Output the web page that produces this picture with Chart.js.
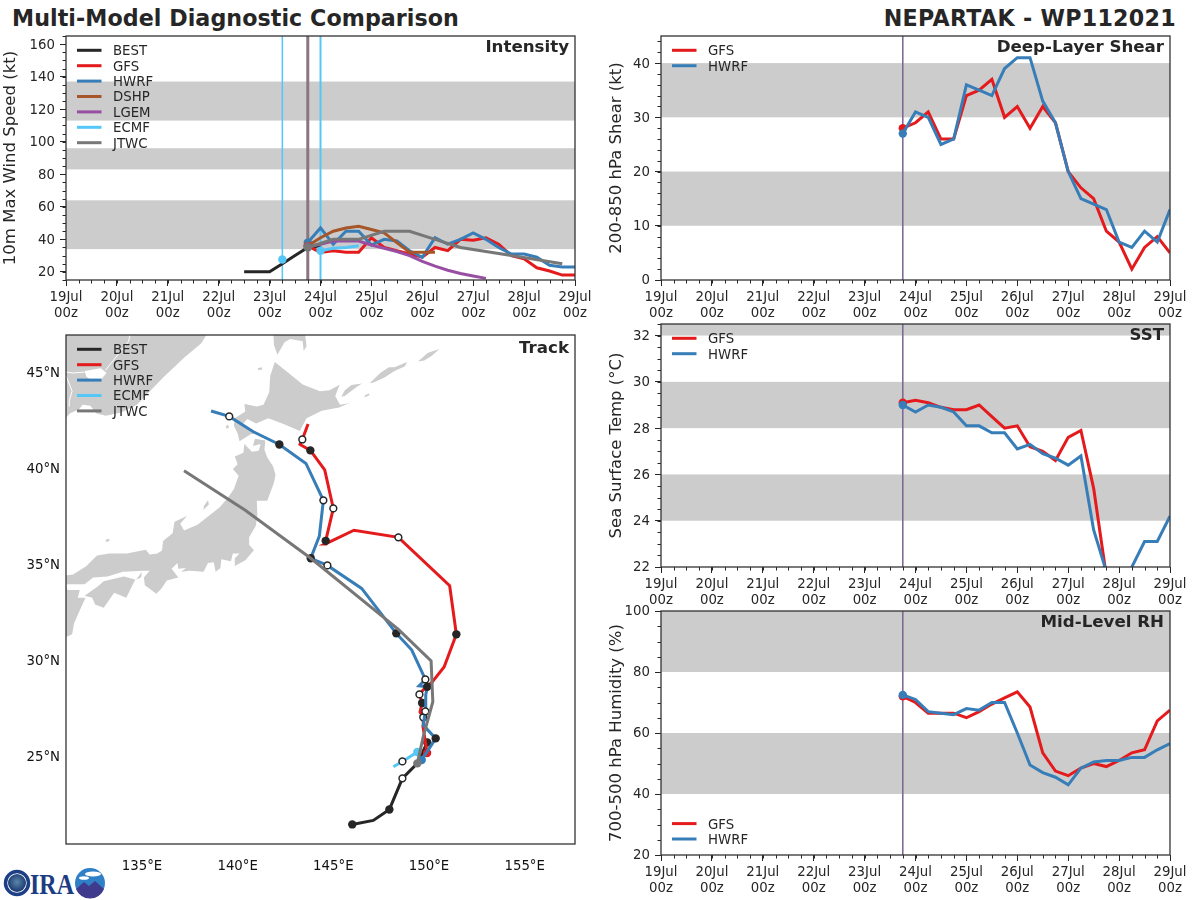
<!DOCTYPE html>
<html><head><meta charset="utf-8">
<style>
html,body{margin:0;padding:0;background:#fff;width:1200px;height:900px;overflow:hidden;font-family:"DejaVu Sans",sans-serif;color:#262626}
canvas{position:absolute;display:block}
.head{position:absolute;top:4px;font-weight:bold;font-size:22.2px;line-height:28px;white-space:nowrap}
svg{position:absolute}
</style>
<script src="https://cdn.jsdelivr.net/npm/chart.js@4/dist/chart.umd.min.js"></script>
</head><body>
<div class="head" style="left:12px;letter-spacing:.06px">Multi-Model Diagnostic Comparison</div>
<div class="head" style="right:24px;letter-spacing:.28px">NEPARTAK - WP112021</div>
<svg style="left:0;top:862px" width="110" height="38" viewBox="0 0 110 38">
  <defs><radialGradient id="e" cx="50%" cy="45%" r="60%"><stop offset="0" stop-color="#5b86a8"/><stop offset="1" stop-color="#12306b"/></radialGradient></defs>
  <circle cx="17" cy="21" r="11.5" fill="none" stroke="#1d3f86" stroke-width="3.5"/>
  <circle cx="17" cy="21" r="9" fill="url(#e)"/>
  <text x="30" y="32" font-family="Liberation Serif" font-weight="bold" font-size="30" fill="#1c3c83" textLength="44" lengthAdjust="spacingAndGlyphs">IRA</text>
  <circle cx="90" cy="21" r="15" fill="#2f80c6"/>
  <ellipse cx="93" cy="12" rx="8" ry="2.4" fill="#fff"/><ellipse cx="84" cy="16" rx="5" ry="1.8" fill="#fff"/>
  <path d="M76 27 L84 20 L89 24 L95 19 L104 27 A15 15 0 0 1 76 27Z" fill="#3f3a8c"/>
</svg>
<canvas id="intensity"></canvas>
<canvas id="shear"></canvas>
<canvas id="track"></canvas>
<canvas id="sst"></canvas>
<canvas id="rh"></canvas>
<script>
// ---------- tick labels ----------
const dayHours = [0,24,48,72,96,120,144,168,192,216,240];
const dayLabels = ['19Jul','20Jul','21Jul','22Jul','23Jul','24Jul','25Jul','26Jul','27Jul','28Jul','29Jul'];
const hourLabel = '00z';
const intensityTicks = [20,40,60,80,100,120,140,160];
const shearTicks = [0,10,20,30,40];
const sstTicks = [22,24,26,28,30,32];
const rhTicks = [20,40,60,80,100];
const lonTicks = [135,140,145,150,155];
const latTicks = [25,30,35,40,45];

// ---------- time axes of series (hours after 19Jul 00z) ----------
const forecastHours = [114,120,126,132,138,144,150,156,162,168,174,180,186,192,198,204,210,216,222,228,234,240];
const bestHours = [84,90,96,102,108,114,120];
const dshpHours = [114,120,126,132,138,144,150,156,162,168,174];
const lgemHours = [114,120,126,132,138,144,150,156,162,168,174,180,186,192,198];
const ecmfHours = [120,126,132,138];
const jtwcHours = [114,126,138,150,162,174,186,210,234];
const ecmfEarlyHours = [102];
const ecmfInitEarly = [102];
const ecmfInitLate = [120];
const analysisHours = [114];

// ---------- intensity (kt) ----------
const bestWind = [20,20,20,25,30,35,36];
const gfsWind = [36,32,33,32,32,41,35,33,31,29,35,33,40,39.5,41,37,30,28,22.5,20.5,18,18];
const hwrfWind = [38,47,37,45,45,36.5,40,39,33,29,41,37,40,44,40,35,31,31,29,24,23,23];
const dshpWind = [36,41,45,47,48,46,44,38,32,32,32];
const lgemWind = [35.5,37,39,39,39,36.5,34.5,32.5,30,26.5,23.5,21,19,17.5,16];
const ecmfWind = [33,34.5,35,36];
const ecmfEarlyWind = [27.6];
const jtwcWind = [35,40,40,45,45,40,35,30,25];
const intensityBands = [[34,64],[83,96],[113,137]];

// ---------- shear (kt) ----------
const gfsShear = [28,29,31,26,26,34,35,37,30,32,28,32,29,20,17,15,9,7,2,6,8,5];
const hwrfShear = [27,31,30,25,26,36,35,34,39,41,41,33,29,20,15,14,13,7,6,9,7,13];
const shearBands = [[10,20],[30,40]];

// ---------- SST (deg C) ----------
const gfsSst = [29.1,29.2,29.1,28.9,28.8,28.8,29.0,28.5,28.0,28.1,27.2,27.0,26.6,27.6,27.9,25.4,21.6,20,20,20,20,20];
const hwrfSst = [29.0,28.7,29.0,28.9,28.7,28.1,28.1,27.8,27.8,27.1,27.3,26.9,26.7,26.4,26.8,23.6,21.8,20,22,23.1,23.1,24.2];
const sstBands = [[24,26],[28,30],[32,33]];

// ---------- mid-level RH (%) ----------
const gfsRh = [72,70,66.5,66.5,66.5,65,67,69.5,71.5,73.5,68.5,53.5,47.5,46,48.5,50,49,51,53.5,54.5,64,67.5];
const hwrfRh = [72.5,71,67,66.5,66,68,67.5,70,70,60,49.5,47,45.5,43,48.5,50.5,51,51,52,52,54.5,56.5];
const rhBands = [[40,60],[80,100]];

// ---------- tracks ----------
const bestLon = [145.99,147.09,147.93,148.61,149.39,149.91];
const bestLat = [21.44,21.65,22.22,23.84,24.62,25.71];
const bestFilled = [0,2,5];
const bestOpen = [3];
const gfsLon = [149.43,149.90,149.69,149.70,149.53,149.64,149.50,149.69,150.16,150.79,151.43,151.08,148.40,146.08,144.57,144.60,145.00,144.55,143.80,143.26,143.38,143.68];
const gfsLat = [24.69,25.16,26.51,27.02,27.29,27.76,28.21,28.44,28.85,29.64,31.34,33.87,36.39,36.76,36.04,36.21,37.90,39.90,40.92,41.23,41.49,42.29];
const gfsFilled = [5,10,15,18];
const gfsOpen = [3,6,12,16,20];
const hwrfLon = [149.62,150.35,149.70,149.81,149.83,149.91,149.48,149.81,149.10,148.29,146.48,144.69,143.82,144.27,144.48,143.57,142.18,140.82,139.56,138.61];
const hwrfLat = [24.79,25.92,26.61,27.33,28.18,28.61,28.66,28.99,30.52,31.39,33.73,34.93,35.30,36.46,38.32,40.24,41.23,41.89,42.69,42.97];
const hwrfFilled = [1,5,9,12,16];
const hwrfOpen = [3,7,11,14,18];
const ecmfLon = [149.39,148.61,148.14];
const ecmfLat = [25.21,24.72,24.44];
const ecmfOpen = [1];
const jtwcLon = [149.39,149.70,150.20,150.11,148.40,143.82,140.38,137.20];
const jtwcLat = [24.62,26.01,27.83,29.96,31.60,35.30,37.81,39.86];

// ---------- land outlines as [lon,lat] ----------
const mainland = [[130.5,47.5],[138.7,47.5],[138.35,46.9],[138.1,46.5],[137.2,45.75],[136.15,44.75],[135.26,43.85],[134.74,43.3],[133.9,42.9],[133.1,42.72],[132.6,42.85],[132.3,43.25],[131.9,43.3],[131.7,43.05],[131.25,42.85],[131.03,42.62],[130.5,42.5]];
const lakeKhanka = [[132.0,45.05],[132.85,45.2],[133.15,44.95],[132.85,44.6],[132.4,44.55],[132.1,44.75]];
const borderA = [[134.45,47.2],[134.3,46.6],[133.9,46.1],[133.5,45.6],[133.1,45.1]];
const borderB = [[132.0,45.0],[131.4,44.95],[131.0,45.0]];
const borderC = [[131.2,43.2],[131.2,43.5],[131.35,44.0],[131.0,44.9]];
const sakhalin = [[141.85,47.2],[141.9,46.4],[142.08,45.9],[142.45,46.55],[142.75,46.72],[143.4,46.6],[143.45,46.1],[143.6,46.35],[143.5,47.2]];
const hokkaido = [[141.94,45.52],[142.6,45.0],[143.4,44.35],[144.3,44.0],[144.8,44.05],[145.33,44.34],[145.1,43.75],[145.35,43.3],[145.82,43.38],[145.3,43.15],[144.4,42.98],[143.6,42.6],[143.25,41.93],[142.4,42.3],[141.6,42.6],[140.97,42.32],[140.5,42.55],[140.28,42.3],[140.7,41.95],[141.18,41.8],[140.7,41.77],[140.1,41.4],[140.0,41.8],[139.8,42.2],[139.85,42.6],[140.4,42.95],[140.35,43.33],[141.0,43.2],[141.35,43.3],[141.65,43.95],[141.7,44.8]];
const rishiri = [[141.1,45.1],[141.3,45.15],[141.25,45.25],[141.05,45.2]];
const okushiri = [[139.4,42.05],[139.55,42.1],[139.5,42.25],[139.4,42.2]];
const kunashiri = [[145.42,43.72],[145.6,44.05],[145.95,44.32],[146.5,44.4],[146.25,44.25],[145.85,43.95],[145.6,43.75]];
const iturup = [[146.9,44.42],[147.45,44.95],[147.9,45.25],[148.2,45.25],[148.85,45.52],[148.75,45.3],[148.2,45.05],[147.65,44.7],[147.1,44.45]];
const urup = [[149.42,45.55],[149.95,46.0],[150.55,46.2],[150.15,45.85],[149.75,45.6]];
const shikotan = [[146.6,43.75],[146.85,43.88],[146.9,43.8],[146.7,43.7]];
const honshu = [[140.9,41.53],[141.45,41.43],[141.4,40.95],[141.55,40.55],[141.85,40.1],[141.98,39.65],[141.9,39.25],[141.55,38.3],[141.0,38.3],[141.03,37.6],[140.95,37.0],[140.6,36.4],[140.6,36.0],[140.85,35.72],[140.4,35.2],[139.85,34.9],[139.85,35.3],[140.1,35.55],[139.75,35.55],[139.65,35.15],[139.15,35.25],[139.1,34.8],[138.85,34.6],[138.75,35.1],[138.45,35.05],[138.22,34.6],[137.5,34.65],[137.05,34.6],[137.3,34.8],[136.9,34.75],[136.85,35.05],[136.55,34.75],[136.9,34.3],[136.3,34.15],[136.0,33.7],[135.75,33.45],[135.15,33.9],[135.1,34.3],[135.4,34.65],[135.1,34.65],[134.0,34.6],[133.2,34.35],[132.45,34.3],[132.0,33.95],[131.2,33.95],[130.5,33.9],[130.5,34.45],[131.1,34.42],[131.4,34.45],[132.1,34.9],[132.65,35.45],[133.3,35.55],[134.2,35.55],[135.2,35.75],[135.4,35.5],[135.8,35.55],[136.05,35.7],[136.1,36.2],[136.6,36.6],[136.7,37.2],[137.35,37.5],[137.0,37.1],[137.2,36.75],[137.9,37.05],[139.05,37.95],[139.45,38.4],[139.8,38.9],[140.05,39.6],[139.75,39.95],[140.0,40.2],[139.85,40.6],[140.3,40.8],[140.35,41.25],[140.75,40.85],[141.1,40.9],[141.2,41.25],[140.8,41.15],[140.9,41.53]];
const shikoku = [[134.65,34.2],[134.18,33.25],[133.55,33.5],[133.0,32.72],[132.55,32.9],[132.4,33.25],[132.0,33.35],[132.7,33.85],[133.0,34.1],[134.05,34.35]];
const kyushu = [[130.5,33.9],[131.03,33.92],[131.1,33.65],[131.75,33.65],[131.65,33.25],[132.05,33.25],[131.85,32.8],[131.75,32.6],[131.45,31.9],[131.35,31.35],[130.8,31.1],[130.5,31.1]];
const awaji = [[134.7,34.2],[135.0,34.6],[134.95,34.3]];
const sado = [[138.2,37.82],[138.5,38.1],[138.45,38.32],[138.25,38.05]];
const oki = [[133.1,36.15],[133.3,36.2],[133.3,36.3],[133.12,36.28]];
const landShapes = [mainland,sakhalin,hokkaido,rishiri,okushiri,kunashiri,iturup,urup,shikotan,honshu,shikoku,kyushu,awaji,sado,oki];
const lakes = [lakeKhanka];
const borders = [borderA,borderB,borderC];

// ---------- styles ----------
const INK = '#262626', BAND = '#cccccc';
const C = {best:'#262626',gfs:'#e41a1c',hwrf:'#377eb8',dshp:'#a65628',lgem:'#984ea3',ecmf:'#55c7f7',jtwc:'#777777'};
const FONT = '"DejaVu Sans"';
const TICK_SIZE = 13.3, LEGEND_SIZE = 13.3, AXIS_TITLE_SIZE = 16.5, PANEL_TITLE_SIZE = 16.67;

const zip = (xs, ys) => xs.map((x, i) => ({x, y: ys[i]}));
const zipPairs = a => a.map(p => ({x: p[0], y: p[1]}));

function series(label, color, hours, values, opts = {}) {
  return Object.assign({
    label, showInLegend: true, data: zip(hours, values),
    borderColor: color, backgroundColor: color, borderWidth: 3,
    pointRadius: c => c.dataIndex === 0 ? 4.2 : 0, pointBorderWidth: 0, pointHoverRadius: 0,
    pointBackgroundColor: color, showLine: true, tension: 0, clip: 0,
    borderJoinStyle: 'miter', borderCapStyle: 'butt', fill: false
  }, opts);
}
function vline(hours, color, width, yMin, yMax) {
  return hours.map(h => ({
    label: 'marker', showInLegend: false, data: [{x: h, y: yMin}, {x: h, y: yMax}],
    borderColor: color, backgroundColor: color, borderWidth: width, pointRadius: 0,
    showLine: true, tension: 0, clip: 0, fill: false
  }));
}
function dots(label, color, hours, values) {
  return {label, showInLegend: false, data: zip(hours, values), showLine: false,
          pointRadius: 4.2, pointBorderWidth: 0, pointBackgroundColor: color, borderColor: color, backgroundColor: color, clip: 0};
}
function stack(list) { const n = list.length; list.forEach((d, i) => d.order = n - i); return list; }

function decoPlugin(cfg) {
  return {
    id: 'deco',
    beforeDatasetsDraw(chart) {
      const {ctx, chartArea: a, scales: {y}} = chart;
      if (!cfg.bands) return;
      ctx.save();
      ctx.beginPath(); ctx.rect(a.left, a.top, a.width, a.height); ctx.clip();
      ctx.fillStyle = BAND;
      cfg.bands.forEach(b => {
        const t = y.getPixelForValue(b[1]), u = y.getPixelForValue(b[0]);
        ctx.fillRect(a.left, t, a.width, u - t);
      });
      ctx.restore();
    },
    afterDatasetsDraw(chart) {
      const {ctx, chartArea: a, scales: {x, y}} = chart;
      ctx.save();
      ctx.strokeStyle = INK; ctx.lineWidth = 1;
      if (cfg.minorX) for (let v = x.min; v <= x.max + 1e-6; v += cfg.minorX) {
        const p = Math.round(x.getPixelForValue(v)) + .5;
        ctx.beginPath(); ctx.moveTo(p, a.bottom); ctx.lineTo(p, a.bottom + 3.5); ctx.stroke();
      }
      if (cfg.minorY) for (let v = cfg.minorFrom; v <= y.max + 1e-6; v += cfg.minorY) {
        const p = Math.round(y.getPixelForValue(v)) + .5;
        ctx.beginPath(); ctx.moveTo(a.left, p); ctx.lineTo(a.left - 3.5, p); ctx.stroke();
      }
      ctx.strokeStyle = '#333333'; ctx.lineWidth = 1.3;
      ctx.strokeRect(a.left, a.top, a.width, a.height);
      // panel title
      ctx.fillStyle = INK;
      ctx.font = `bold ${PANEL_TITLE_SIZE}px ${FONT}`;
      ctx.textAlign = 'right'; ctx.textBaseline = 'middle';
      ctx.fillText(cfg.title, a.right - 6, a.top + (cfg.titleDrop || 11.5));
      // legend inside the plot
      const rows = chart.data.datasets.filter(d => d.showInLegend);
      const rowH = 15.4;
      const y0 = cfg.legendBottom ? a.bottom - 16 - (rows.length - 1) * rowH : a.top + 14.3;
      ctx.font = `${LEGEND_SIZE}px ${FONT}`;
      ctx.textAlign = 'left';
      rows.forEach((d, i) => {
        const ry = y0 + i * rowH;
        ctx.strokeStyle = d.borderColor; ctx.lineWidth = 3; ctx.lineCap = 'butt';
        ctx.beginPath(); ctx.moveTo(a.left + 11, ry); ctx.lineTo(a.left + 35.5, ry); ctx.stroke();
        ctx.fillStyle = INK;
        ctx.fillText(d.label, a.left + 47, ry + 1.5);
      });
      ctx.restore();
    }
  };
}

function panel(id, rect, cfg) {
  const top = 20, right = 25, axisH = 48;
  const el = document.getElementById(id);
  el.width = rect.w + rect.axisW + right;
  el.height = rect.h + top + axisH;
  el.style.left = (rect.x - rect.axisW) + 'px';
  el.style.top = (rect.y - top) + 'px';
  return new Chart(el, {
    type: 'scatter',
    data: {datasets: stack(cfg.datasets)},
    plugins: [decoPlugin(cfg)],
    options: {
      responsive: false, animation: false, devicePixelRatio: 1,
      layout: {autoPadding: false, padding: {left: 0, top, right, bottom: 0}},
      events: [],
      plugins: {legend: {display: false}, tooltip: {enabled: false}, title: {display: false}},
      scales: {
        x: Object.assign({
          type: 'linear', min: 0, max: 240,
          grid: {drawOnChartArea: false, drawTicks: true, tickLength: 6, tickColor: INK, tickWidth: 1},
          border: {display: false},
          afterBuildTicks: s => { s.ticks = dayHours.map(value => ({value})); },
          afterFit: s => { s.height = axisH; },
          ticks: {autoSkip: false, maxRotation: 0, minRotation: 0, padding: 3, color: INK,
                  font: {family: FONT, size: TICK_SIZE, lineHeight: 1.25},
                  callback: v => [dayLabels[dayHours.indexOf(v)], hourLabel]}
        }, cfg.x || {}),
        y: Object.assign({
          type: 'linear', min: cfg.yMin, max: cfg.yMax,
          grid: {drawOnChartArea: false, drawTicks: true, tickLength: 6, tickColor: INK, tickWidth: 1},
          border: {display: false},
          afterBuildTicks: s => { s.ticks = cfg.yTicks.map(value => ({value})); },
          afterFit: s => { s.width = rect.axisW; },
          title: cfg.yTitle ? {display: true, text: cfg.yTitle, color: INK, padding: {top: 1, bottom: 0},
                  font: {family: FONT, size: AXIS_TITLE_SIZE, lineHeight: 1.2, weight: 'normal'}} : {display: false},
          ticks: {autoSkip: false, padding: 5, labelOffset: 1, color: INK,
                  font: {family: FONT, size: TICK_SIZE}, callback: v => String(v)}
        }, cfg.y || {})
      }
    }
  });
}

// ---------- intensity ----------
panel('intensity', {x: 66, y: 36, w: 509, h: 244, axisW: 66}, {
  title: 'Intensity', yTitle: '10m Max Wind Speed (kt)', yMin: 15, yMax: 165, yTicks: intensityTicks,
  bands: intensityBands, minorX: 6, minorY: 5, minorFrom: 15,
  datasets: [
    ...vline(ecmfInitEarly, C.ecmf, 1.5, 15, 165),
    ...vline(ecmfInitLate, C.ecmf, 2, 15, 165),
    ...vline(analysisHours, '#8a7680', 3, 15, 165),
    series('BEST', C.best, bestHours, bestWind, {pointRadius: 0}),
    series('GFS', C.gfs, forecastHours, gfsWind),
    series('HWRF', C.hwrf, forecastHours, hwrfWind),
    series('DSHP', C.dshp, dshpHours, dshpWind),
    series('LGEM', C.lgem, lgemHours, lgemWind),
    series('ECMF', C.ecmf, ecmfHours, ecmfWind),
    dots('ECMF early', C.ecmf, ecmfEarlyHours, ecmfEarlyWind),
    series('JTWC', C.jtwc, jtwcHours, jtwcWind)
  ]
});

// ---------- shear ----------
panel('shear', {x: 661, y: 36, w: 509, h: 244, axisW: 55}, {
  title: 'Deep-Layer Shear', yTitle: '200-850 hPa Shear (kt)', yMin: 0, yMax: 45, yTicks: shearTicks,
  bands: shearBands, minorX: 6, minorY: 2, minorFrom: 0,
  datasets: [
    ...vline(analysisHours, '#7e6a95', 1.6, 0, 45),
    series('GFS', C.gfs, forecastHours, gfsShear),
    series('HWRF', C.hwrf, forecastHours, hwrfShear)
  ]
});

// ---------- SST ----------
panel('sst', {x: 661, y: 324, w: 509, h: 243, axisW: 55}, {
  title: 'SST', yTitle: 'Sea Surface Temp (°C)', yMin: 22, yMax: 32.5, yTicks: sstTicks,
  bands: sstBands, minorX: 6, minorY: 0.5, minorFrom: 22,
  datasets: [
    ...vline(analysisHours, '#7e6a95', 1.6, 22, 32.5),
    series('GFS', C.gfs, forecastHours, gfsSst),
    series('HWRF', C.hwrf, forecastHours, hwrfSst)
  ]
});

// ---------- RH ----------
panel('rh', {x: 661, y: 611, w: 509, h: 244, axisW: 55}, {
  title: 'Mid-Level RH', yTitle: '700-500 hPa Humidity (%)', yMin: 20, yMax: 100, yTicks: rhTicks,
  bands: rhBands, minorX: 6, minorY: 5, minorFrom: 20, legendBottom: true,
  datasets: [
    ...vline(analysisHours, '#7e6a95', 1.6, 20, 100),
    series('GFS', C.gfs, forecastHours, gfsRh),
    series('HWRF', C.hwrf, forecastHours, hwrfRh)
  ]
});

// ---------- track ----------
function land(shape, color) {
  return {label: 'land', showInLegend: false, data: zipPairs(shape), showLine: true, tension: 0,
          fill: 'shape', backgroundColor: color, borderColor: color, borderWidth: 0, pointRadius: 0, clip: 0};
}
function border(line) {
  return {label: 'border', showInLegend: false, data: zipPairs(line), showLine: true, tension: 0, fill: false,
          borderColor: '#ffffff', borderWidth: 1, pointRadius: 0, clip: 0};
}
function pick(arr, idx) { return idx.map(i => arr[i]); }
function markers(lon, lat, idx, fillColor, edge) {
  return {label: 'marker', showInLegend: false, data: zip(pick(lon, idx), pick(lat, idx)), showLine: false, clip: 0,
          pointRadius: edge ? 3.4 : 4.2, pointBorderWidth: edge ? 1.5 : 0, pointBackgroundColor: fillColor,
          pointBorderColor: edge || fillColor, borderColor: fillColor, backgroundColor: fillColor};
}
function track(label, color, lon, lat, opts = {}) {
  return series(label, color, lon, lat, Object.assign({pointRadius: 0}, opts));
}
panel('track', {x: 66, y: 335, w: 509, h: 509, axisW: 66}, {
  title: 'Track', titleDrop: 14, yMin: 20.42, yMax: 46.93, yTicks: latTicks,
  x: {min: 131.03, max: 157.63,
      grid: {display: false, drawTicks: false},
      afterBuildTicks: s => { s.ticks = lonTicks.map(value => ({value})); },
      ticks: {autoSkip: false, maxRotation: 0, padding: 15, color: '#111', font: {family: FONT, size: TICK_SIZE},
              callback: v => v + '°E'}},
  y: {grid: {display: false, drawTicks: false},
      ticks: {autoSkip: false, padding: 6, labelOffset: 1, color: '#111', font: {family: FONT, size: TICK_SIZE}, callback: v => v + '°N'}},
  datasets: [
    ...landShapes.map(s => land(s, BAND)),
    ...lakes.map(s => land(s, '#ffffff')),
    ...borders.map(border),
    track('BEST', C.best, bestLon, bestLat),
    markers(bestLon, bestLat, bestFilled, C.best),
    markers(bestLon, bestLat, bestOpen, '#ffffff', C.best),
    track('GFS', C.gfs, gfsLon, gfsLat),
    markers(gfsLon, gfsLat, [1], C.gfs),
    markers(gfsLon, gfsLat, gfsFilled, C.best),
    markers(gfsLon, gfsLat, gfsOpen, '#ffffff', C.best),
    track('HWRF', C.hwrf, hwrfLon, hwrfLat),
    markers(hwrfLon, hwrfLat, [0], C.hwrf),
    markers(hwrfLon, hwrfLat, hwrfFilled, C.best),
    markers(hwrfLon, hwrfLat, hwrfOpen, '#ffffff', C.best),
    track('ECMF', C.ecmf, ecmfLon, ecmfLat),
    markers(ecmfLon, ecmfLat, [0], C.ecmf),
    markers(ecmfLon, ecmfLat, ecmfOpen, '#ffffff', C.best),
    track('JTWC', C.jtwc, jtwcLon, jtwcLat),
    markers(jtwcLon, jtwcLat, [0], C.jtwc)
  ]
});
</script>
</body></html>
